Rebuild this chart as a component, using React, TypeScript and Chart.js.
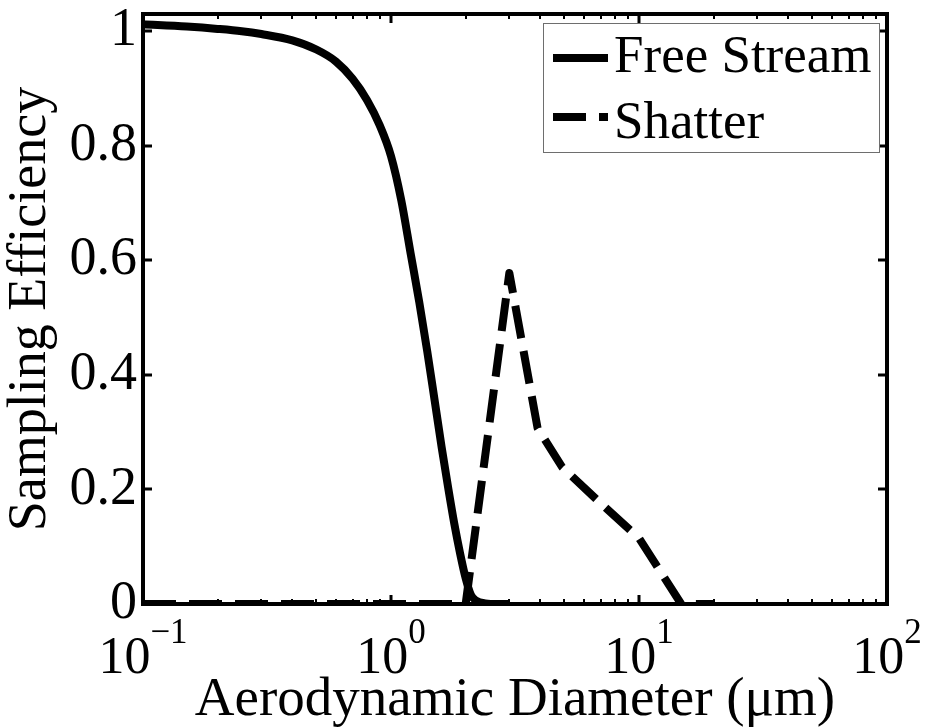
import { useEffect, useRef } from "react";
import { Chart, registerables } from "chart.js";

Chart.register(...registerables);

// Aerodynamic diameter (µm) and sampling efficiency for each inlet condition
const freeStreamDiameter = [
  0.1, 0.15, 0.2, 0.25, 0.3, 0.4, 0.5, 0.6, 0.7, 0.8, 0.9, 1.0, 1.1, 1.2, 1.3,
  1.4, 1.5, 1.6, 1.7, 1.8, 1.9, 2.0, 2.1, 2.2, 2.4, 2.7, 3.0,
];
const freeStreamEfficiency = [
  1.012, 1.008, 1.004, 1.0, 0.995, 0.984, 0.968, 0.947, 0.917, 0.88, 0.836,
  0.782, 0.705, 0.612, 0.527, 0.441, 0.355, 0.274, 0.203, 0.14, 0.088, 0.045,
  0.016, 0.006, 0.001, 0, 0,
];

const shatterDiameter = [0.1, 0.2, 0.5, 1, 2.0, 3.0, 3.9, 4.9, 7.0, 10.0, 14.8, 20];
const shatterEfficiency = [0, 0, 0, 0, 0, 0.578, 0.307, 0.239, 0.176, 0.115, 0, 0];

const seriesLabels = ["Free Stream", "Shatter"];
const yTickValues = [0, 0.2, 0.4, 0.6, 0.8, 1];
const xDecadeExponents = [-1, 0, 1, 2];
const xTitle = "Aerodynamic Diameter (μm)";
const yTitle = "Sampling Efficiency";

const SERIF = "'Liberation Serif', 'Times New Roman', serif";

// Exponent text with a true minus sign
const exponentText = (e: number) => (e < 0 ? "\u2212" + String(-e) : String(e));

// Box around the plot, inward ticks (major + log minor) and power-of-ten x labels
const frameAndTicks = {
  id: "frameAndTicks",
  afterDatasetsDraw(chart: any) {
    const { ctx, chartArea } = chart;
    const { left, right, top, bottom } = chartArea;
    const xs = chart.scales.x;
    const ys = chart.scales.y;
    ctx.save();
    ctx.strokeStyle = "#000";
    ctx.fillStyle = "#000";

    // minor ticks on the log axis
    ctx.lineWidth = 2;
    for (let e = xDecadeExponents[0]; e < xDecadeExponents[xDecadeExponents.length - 1]; e++) {
      for (let k = 2; k <= 9; k++) {
        const px = Math.round(xs.getPixelForValue(k * Math.pow(10, e)));
        ctx.beginPath();
        ctx.moveTo(px, bottom);
        ctx.lineTo(px, bottom - 5);
        ctx.moveTo(px, top);
        ctx.lineTo(px, top + 5);
        ctx.stroke();
      }
    }

    // major ticks
    ctx.lineWidth = 3;
    xDecadeExponents.forEach((e) => {
      const px = Math.round(xs.getPixelForValue(Math.pow(10, e)));
      ctx.beginPath();
      ctx.moveTo(px, bottom);
      ctx.lineTo(px, bottom - 9);
      ctx.moveTo(px, top);
      ctx.lineTo(px, top + 9);
      ctx.stroke();
    });
    yTickValues.forEach((v) => {
      const py = Math.round(ys.getPixelForValue(v));
      ctx.beginPath();
      ctx.moveTo(left, py);
      ctx.lineTo(left + 9, py);
      ctx.moveTo(right, py);
      ctx.lineTo(right - 9, py);
      ctx.stroke();
    });

    // frame
    ctx.lineWidth = 4;
    ctx.strokeRect(left, top, right - left, bottom - top);

    // x tick labels: "10" with a raised exponent
    const baseFont = `52px ${SERIF}`;
    const expFont = `35px ${SERIF}`;
    ctx.textBaseline = "alphabetic";
    ctx.textAlign = "left";
    xDecadeExponents.forEach((e) => {
      const px = xs.getPixelForValue(Math.pow(10, e));
      const expText = exponentText(e);
      ctx.font = baseFont;
      const wb = ctx.measureText("10").width;
      ctx.font = expFont;
      const we = ctx.measureText(expText).width;
      const x0 = px - (wb + we) / 2;
      ctx.font = baseFont;
      ctx.fillText("10", x0, bottom + 69);
      ctx.font = expFont;
      ctx.fillText(expText, x0 + wb, bottom + 39);
    });
    ctx.restore();
  },
};

// Boxed legend in the upper-right corner of the plot
const boxedLegend = {
  id: "boxedLegend",
  afterDraw(chart: any) {
    const { ctx, chartArea } = chart;
    const boxLeft = chartArea.right - 344;
    const boxTop = chartArea.top + 9;
    const boxW = 336;
    const boxH = 129;
    ctx.save();
    ctx.fillStyle = "#fff";
    ctx.fillRect(boxLeft, boxTop, boxW, boxH);
    ctx.strokeStyle = "#6e6e6e";
    ctx.lineWidth = 1;
    ctx.strokeRect(boxLeft + 0.5, boxTop + 0.5, boxW, boxH);

    chart.data.datasets.forEach((ds: any, i: number) => {
      const lineY = boxTop + 35 + i * 59;
      const textY = boxTop + 49 + i * 66;
      ctx.strokeStyle = ds.borderColor;
      ctx.lineWidth = ds.borderWidth;
      ctx.lineCap = "butt";
      ctx.setLineDash(ds.borderDash || []);
      ctx.beginPath();
      ctx.moveTo(boxLeft + 10, lineY);
      ctx.lineTo(boxLeft + 65, lineY);
      ctx.stroke();
      ctx.setLineDash([]);
      ctx.fillStyle = "#000";
      ctx.font = `53px ${SERIF}`;
      ctx.textBaseline = "alphabetic";
      ctx.textAlign = "left";
      ctx.fillText(ds.label, boxLeft + 71, textY);
    });
    ctx.restore();
  },
};

export default function App() {
  const canvasRef = useRef<HTMLCanvasElement | null>(null);

  useEffect(() => {
    const canvas = canvasRef.current;
    if (!canvas) return;

    const chart = new Chart(canvas, {
      type: "line",
      data: {
        datasets: [
          {
            label: seriesLabels[0],
            data: freeStreamDiameter.map((d, i) => ({ x: d, y: freeStreamEfficiency[i] })),
            borderColor: "#000",
            borderWidth: 8,
            pointRadius: 0,
            cubicInterpolationMode: "monotone",
            borderJoinStyle: "round",
            fill: false,
          },
          {
            label: seriesLabels[1],
            data: shatterDiameter.map((d, i) => ({ x: d, y: shatterEfficiency[i] })),
            borderColor: "#000",
            borderWidth: 8,
            borderDash: [33, 13],
            borderCapStyle: "butt",
            borderJoinStyle: "round",
            pointRadius: 0,
            tension: 0,
            fill: false,
          },
        ],
      },
      options: {
        responsive: false,
        animation: false,
        devicePixelRatio: 1,
        layout: { padding: { top: 14, right: 38, left: 0, bottom: 0 } },
        plugins: {
          legend: { display: false },
          tooltip: { enabled: false },
        },
        scales: {
          x: {
            type: "logarithmic",
            min: 0.1,
            max: 100,
            grid: { display: false, drawTicks: false },
            border: { display: false },
            ticks: { display: false },
            afterBuildTicks: (scale: any) => {
              scale.ticks = xDecadeExponents.map((e) => ({ value: Math.pow(10, e) }));
            },
            afterFit: (scale: any) => {
              scale.height = 124;
              scale.paddingLeft = 0;
              scale.paddingRight = 0;
            },
            title: {
              display: true,
              text: xTitle,
              color: "#000",
              font: { family: SERIF, size: 55, lineHeight: 1.0 },
              padding: { top: 0, bottom: 0 },
            },
          },
          y: {
            type: "linear",
            min: 0,
            max: 1.03,
            grid: { display: false, drawTicks: false },
            border: { display: false },
            afterBuildTicks: (scale: any) => {
              scale.ticks = yTickValues.map((v) => ({ value: v }));
            },
            afterFit: (scale: any) => {
              scale.width = 143;
              scale.paddingTop = 0;
              scale.paddingBottom = 0;
            },
            ticks: {
              color: "#000",
              padding: 6,
              font: { family: SERIF, size: 54, lineHeight: 1.0 },
              callback: (v: any) => String(Number(Number(v).toFixed(1))),
            },
            title: {
              display: true,
              text: yTitle,
              color: "#000",
              font: { family: SERIF, size: 54, lineHeight: 1.15 },
              padding: { top: 0, bottom: 0 },
            },
          },
        },
      },
      plugins: [frameAndTicks, boxedLegend],
    });

    return () => chart.destroy();
  }, []);

  return (
    <div style={{ position: "fixed", left: 0, top: 0, width: 925, height: 728, background: "#fff" }}>
      <canvas ref={canvasRef} width={925} height={728} style={{ display: "block" }} />
    </div>
  );
}
